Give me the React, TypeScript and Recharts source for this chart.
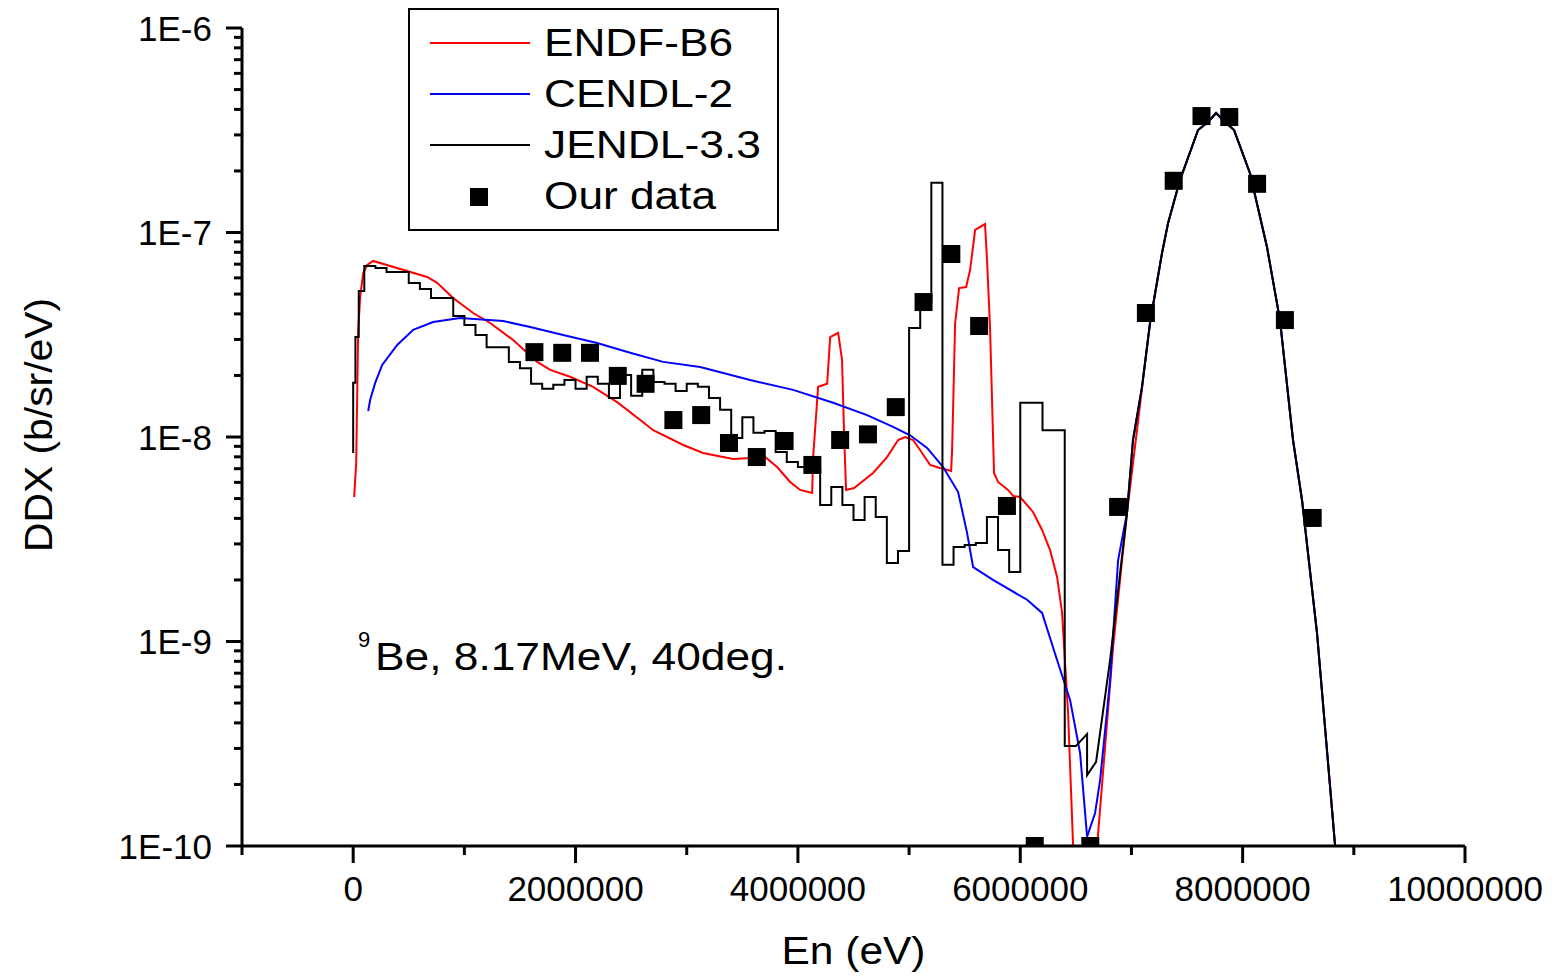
import React from 'react'
import { ComposedChart, Line, Scatter, XAxis, YAxis, Legend } from 'recharts'

const FONT = '"Liberation Sans", Arial, sans-serif'
const W = 1556
const H = 976

// Energies are kept in MeV and turned into eV when the series are built.

// Our data (measured points)
const OUR_E = [1.63, 1.88, 2.13, 2.38, 2.63, 2.88, 3.13, 3.38, 3.63, 3.88, 4.13, 4.38, 4.63, 4.88, 5.13, 5.38, 5.63, 5.88, 6.13, 6.63, 6.88, 7.13, 7.38, 7.63, 7.88, 8.13, 8.38, 8.63]
const OUR_DDX = [2.60e-8, 2.58e-8, 2.58e-8, 1.99e-8, 1.82e-8, 1.21e-8, 1.28e-8, 9.35e-9, 7.98e-9, 9.56e-9, 7.30e-9, 9.67e-9, 1.03e-8, 1.40e-8, 4.57e-8, 7.85e-8, 3.49e-8, 4.60e-9, 1e-10, 1e-10, 4.55e-9, 4.04e-8, 1.79e-7, 3.71e-7, 3.67e-7, 1.73e-7, 3.73e-8, 4.02e-9]

// elastic peak, where the three evaluations coincide
const PEAK_E = [7.167, 7.275, 7.329, 7.437, 7.599, 7.689, 7.761, 7.842, 7.923, 8.066, 8.219, 8.336, 8.453, 8.534, 8.669, 8.831, 8.858]
const PEAK_DDX = [3.61e-8, 7.94e-8, 1.11e-7, 1.81e-7, 3.17e-7, 3.47e-7, 3.84e-7, 3.47e-7, 3.17e-7, 1.95e-7, 8.49e-8, 3.73e-8, 9.67e-9, 4.92e-9, 1.10e-9, 1.01e-10, 6.1e-11]

// ENDF-B6
const ENDF_E = [0.009, 0.027, 0.045, 0.063, 0.090, 0.126, 0.180, 0.665, 0.755, 0.899, 1.079, 1.232, 1.439, 1.655, 1.772, 1.951, 2.158, 2.374, 2.608, 2.698, 2.968, 3.147, 3.417, 3.543, 3.705, 3.813, 3.930, 4.020, 4.128, 4.137, 4.182, 4.263, 4.290, 4.362, 4.397, 4.415, 4.433, 4.505, 4.676, 4.802, 4.901, 4.964, 5.036, 5.117, 5.189, 5.279, 5.378, 5.387, 5.414, 5.450, 5.513, 5.549, 5.594, 5.683, 5.701, 5.728, 5.764, 5.800, 5.890, 5.935, 5.998, 6.115, 6.196, 6.268, 6.331, 6.376, 6.403, 6.430, 6.475, 6.592, 6.691, 6.835, 6.960, 7.104]
const ENDF_DDX = [5.09e-9, 7.46e-9, 3.34e-8, 4.84e-8, 6.34e-8, 6.94e-8, 7.26e-8, 6.06e-8, 5.67e-8, 4.78e-8, 4.04e-8, 3.61e-8, 2.98e-8, 2.33e-8, 2.13e-8, 1.97e-8, 1.76e-8, 1.48e-8, 1.18e-8, 1.08e-8, 9.14e-9, 8.35e-9, 7.80e-9, 7.88e-9, 7.98e-9, 7.13e-9, 6.03e-9, 5.51e-9, 5.32e-9, 7.98e-9, 1.76e-8, 1.82e-8, 3.08e-8, 3.23e-8, 2.38e-8, 1.05e-8, 5.51e-9, 5.63e-9, 6.67e-9, 7.98e-9, 9.67e-9, 1.0e-8, 9.67e-9, 8.35e-9, 7.30e-9, 7.05e-9, 6.82e-9, 8.64e-9, 3.61e-8, 5.35e-8, 5.41e-8, 6.56e-8, 1.03e-7, 1.10e-7, 7.34e-8, 3.45e-8, 6.67e-9, 6.03e-9, 5.51e-9, 5.15e-9, 5.09e-9, 4.30e-9, 3.51e-9, 2.80e-9, 2.07e-9, 1.38e-9, 7.85e-10, 4.47e-10, 1.01e-10, 1e-12, 1.0e-10, 9.40e-10, 4.25e-9, 1.90e-8]

// CENDL-2
const CENDL_E = [0.135, 0.153, 0.198, 0.261, 0.396, 0.540, 0.719, 0.962, 1.349, 1.592, 1.888, 2.194, 2.491, 2.788, 3.121, 3.570, 3.957, 4.317, 4.622, 4.856, 5.009, 5.162, 5.306, 5.441, 5.522, 5.576, 5.755, 6.061, 6.196, 6.331, 6.448, 6.538, 6.601, 6.673, 6.718, 6.808, 6.880, 6.960, 7.014, 7.095]
const CENDL_DDX = [1.34e-8, 1.52e-8, 1.84e-8, 2.25e-8, 2.82e-8, 3.34e-8, 3.65e-8, 3.82e-8, 3.69e-8, 3.45e-8, 3.15e-8, 2.88e-8, 2.58e-8, 2.33e-8, 2.20e-8, 1.90e-8, 1.70e-8, 1.47e-8, 1.28e-8, 1.12e-8, 1.02e-8, 8.84e-9, 7.13e-9, 5.38e-9, 3.39e-9, 2.31e-9, 2.00e-9, 1.60e-9, 1.38e-9, 8.12e-10, 5.18e-10, 2.85e-10, 1.11e-10, 1.45e-10, 2.10e-10, 6.48e-10, 2.50e-9, 4.25e-9, 9.67e-9, 1.76e-8]

// JENDL-3.3 is a histogram: bin edges, one value per bin, then a smooth tail
const JENDL_START = 8.35e-9
const JENDL_EDGES = [0, 0.02, 0.05, 0.1, 0.2, 0.3, 0.5, 0.6, 0.7, 0.9, 1.0, 1.1, 1.2, 1.4, 1.5, 1.6, 1.7, 1.8, 1.9, 2.0, 2.1, 2.2, 2.3, 2.4, 2.5, 2.6, 2.7, 2.8, 2.9, 3.0, 3.1, 3.2, 3.3, 3.4, 3.5, 3.6, 3.7, 3.8, 3.9, 4.0, 4.1, 4.2, 4.3, 4.4, 4.5, 4.6, 4.7, 4.8, 4.9, 5.0, 5.1, 5.2, 5.3, 5.4, 5.5, 5.6, 5.7, 5.8, 5.9, 6.0, 6.2, 6.4, 6.5]
const JENDL_BINS = [1.84e-8, 3.08e-8, 5.17e-8, 6.86e-8, 6.71e-8, 6.41e-8, 5.67e-8, 5.29e-8, 4.78e-8, 3.91e-8, 3.53e-8, 3.15e-8, 2.75e-8, 2.33e-8, 2.17e-8, 1.82e-8, 1.72e-8, 1.80e-8, 1.90e-8, 1.72e-8, 1.97e-8, 1.82e-8, 1.55e-8, 2.01e-8, 1.59e-8, 2.13e-8, 1.86e-8, 1.82e-8, 1.68e-8, 1.82e-8, 1.76e-8, 1.55e-8, 1.36e-8, 9.89e-9, 1.25e-8, 1.05e-8, 1.07e-8, 8.45e-9, 7.55e-9, 7.13e-9, 7.13e-9, 4.65e-9, 5.69e-9, 4.65e-9, 3.93e-9, 5.09e-9, 4.06e-9, 2.42e-9, 2.77e-9, 3.41e-8, 4.57e-8, 1.75e-7, 2.37e-9, 2.90e-9, 2.96e-9, 3.03e-9, 4.06e-9, 2.80e-9, 2.19e-9, 1.47e-8, 1.08e-8, 3.08e-10]
const JENDL_TAIL_E = [6.601, 6.601, 6.682, 6.808, 6.960, 7.014, 7.095]
const JENDL_TAIL_DDX = [3.53e-10, 2.22e-10, 2.58e-10, 8.12e-10, 4.25e-9, 9.67e-9, 1.76e-8]

const X_TICKS = [-1e6, 0, 1e6, 2e6, 3e6, 4e6, 5e6, 6e6, 7e6, 8e6, 9e6, 1e7]
const Y_DECADES = [-10, -9, -8, -7, -6]

const LEGEND_ITEMS = [
  { name: 'ENDF-B6', color: '#ff0000', kind: 'line', len: 189 },
  { name: 'CENDL-2', color: '#0000ff', kind: 'line', len: 189 },
  { name: 'JENDL-3.3', color: '#000000', kind: 'line', len: 217 },
  { name: 'Our data', color: '#000000', kind: 'square', len: 172 },
]

type Pt = { x: number; y: number }
const pts = (e: number[], d: number[]): Pt[] => e.map((v, i) => ({ x: v * 1e6, y: d[i] }))

const peak = pts(PEAK_E, PEAK_DDX)
const endf = [...pts(ENDF_E, ENDF_DDX), ...peak]
const cendl = [...pts(CENDL_E, CENDL_DDX), ...peak]
const jendl: Pt[] = [{ x: 0, y: JENDL_START }]
JENDL_BINS.forEach((v, i) => {
  jendl.push({ x: JENDL_EDGES[i] * 1e6, y: v })
  jendl.push({ x: JENDL_EDGES[i + 1] * 1e6, y: v })
})
jendl.push(...pts(JENDL_TAIL_E, JENDL_TAIL_DDX), ...peak)
const ours = pts(OUR_E, OUR_DDX)

// log ticks: decades plus 2..9 minors
const yTicks: number[] = []
Y_DECADES.forEach(p => {
  if (p === -6) { yTicks.push(1e-6); return }
  for (let k = 1; k <= 9; k++) yTicks.push(k * Math.pow(10, p))
})

const isDecade = (v: number) => Math.abs(Math.log10(v) - Math.round(Math.log10(v))) < 1e-6

function XTick(props: any) {
  const { x, y, payload } = props
  const v = payload.value as number
  const major = Math.round(v / 1e6) % 2 === 0
  return (
    <g>
      <line x1={x} x2={x} y1={y} y2={y + (major ? 17 : 9)} stroke="#000" strokeWidth={3} />
      {major && (
        <text x={x} y={y + 55} textAnchor="middle" fontSize={35} fontFamily={FONT} fill="#000">
          {String(v)}
        </text>
      )}
    </g>
  )
}

function YTick(props: any) {
  const { x, y, payload } = props
  const v = payload.value as number
  const major = isDecade(v)
  return (
    <g>
      <line x1={x} x2={x - (major ? 16 : 8)} y1={y} y2={y} stroke="#000" strokeWidth={3} />
      {major && (
        <text x={x - 30} y={y + 12.5} textAnchor="end" fontSize={35} fontFamily={FONT} fill="#000">
          {`1E${Math.round(Math.log10(v))}`}
        </text>
      )}
    </g>
  )
}

function XTitle(props: any) {
  const vb = props.viewBox
  return (
    <text x={vb.x + vb.width / 2 - 72} y={964} fontSize={38} fontFamily={FONT} fill="#000"
      textLength={144} lengthAdjust="spacingAndGlyphs">
      En (eV)
    </text>
  )
}

function YTitle() {
  return (
    <text x={0} y={0} transform="translate(52, 425) rotate(-90)" textAnchor="middle" fontSize={39}
      fontFamily={FONT} fill="#000" textLength={254} lengthAdjust="spacingAndGlyphs">
      DDX (b/sr/eV)
    </text>
  )
}

function LegendBox() {
  return (
    <svg width={371} height={223} style={{ display: 'block' }}>
      <rect x={1} y={1} width={369} height={221} fill="#fff" stroke="#000" strokeWidth={2} />
      {LEGEND_ITEMS.map((it, i) => {
        const base = 48 + i * 51
        return (
          <g key={it.name}>
            {it.kind === 'line' ? (
              <line x1={22} x2={122} y1={base - 13} y2={base - 13} stroke={it.color} strokeWidth={2} />
            ) : (
              <rect x={62} y={base - 21} width={18} height={18} fill="#000" />
            )}
            <text x={136} y={base} fontSize={38} fontFamily={FONT} fill="#000"
              textLength={it.len} lengthAdjust="spacingAndGlyphs">
              {it.name}
            </text>
          </g>
        )
      })}
    </svg>
  )
}

const Square = (props: any) => {
  const { cx, cy } = props
  return <rect x={cx - 9} y={cy - 9} width={18} height={18} fill="#000" />
}

export default function App() {
  return (
    <div style={{ position: 'absolute', left: 0, top: 0, width: W, height: H, background: '#fff' }}>
      <ComposedChart width={W} height={H} margin={{ top: 28, right: 91, bottom: 0, left: 0 }}>
        <XAxis
          dataKey="x"
          type="number"
          domain={[-1e6, 1e7]}
          ticks={X_TICKS}
          interval={0}
          allowDataOverflow
          height={130}
          axisLine={{ stroke: '#000', strokeWidth: 3 }}
          tickLine={false}
          tickSize={0}
          tickMargin={0}
          tick={<XTick />}
          label={<XTitle />}
        />
        <YAxis
          dataKey="y"
          type="number"
          scale="log"
          domain={[1e-10, 1e-6]}
          ticks={yTicks}
          interval={0}
          allowDataOverflow
          width={242}
          axisLine={{ stroke: '#000', strokeWidth: 3 }}
          tickLine={false}
          tickSize={0}
          tickMargin={0}
          tick={<YTick />}
          label={<YTitle />}
        />
        <Legend
          layout="horizontal"
          verticalAlign="middle"
          align="center"
          content={<LegendBox />}
          wrapperStyle={{ left: 408, top: 8, width: 371, height: 223 }}
        />
        <Line data={endf} dataKey="y" type="linear" stroke="#ff0000" strokeWidth={2} dot={false} isAnimationActive={false} />
        <Line data={cendl} dataKey="y" type="linear" stroke="#0000ff" strokeWidth={2} dot={false} isAnimationActive={false} />
        <Line data={jendl} dataKey="y" type="linear" stroke="#000000" strokeWidth={2} dot={false} isAnimationActive={false} />
        <Scatter data={ours} dataKey="y" shape={Square} isAnimationActive={false} />
      </ComposedChart>
      <svg width={W} height={H} style={{ position: 'absolute', left: 0, top: 0, pointerEvents: 'none' }}>
        <text x={358} y={647} fontSize={22} fontFamily={FONT} fill="#000">9</text>
        <text x={375} y={670} fontSize={39} fontFamily={FONT} fill="#000" textLength={412} lengthAdjust="spacingAndGlyphs">
          Be, 8.17MeV, 40deg.
        </text>
      </svg>
    </div>
  )
}
